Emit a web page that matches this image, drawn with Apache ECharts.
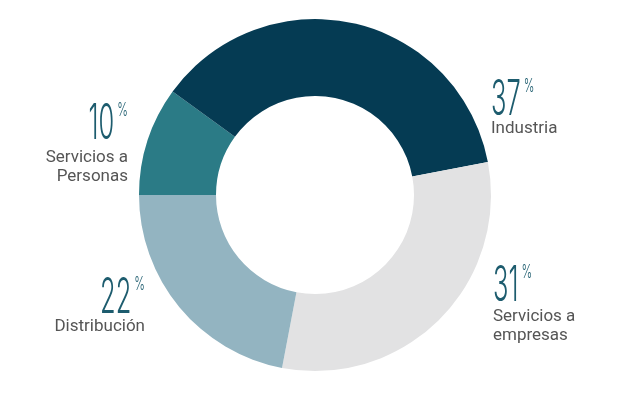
<!DOCTYPE html>
<html><head><meta charset="utf-8">
<script src="https://cdn.jsdelivr.net/npm/echarts@6/dist/echarts.min.js"></script>
<style>html,body{margin:0;padding:0;background:#fff}#c{width:620px;height:396px}</style>
</head><body><div id="c"></div>
<script>
const categories = ['Servicios a\nPersonas', 'Industria', 'Servicios a\nempresas', 'Distribución'];
const values = [10, 37, 31, 22];
const colors = ['#2b7b86', '#053b53', '#e2e2e3', '#93b4c1'];
// label anchor per slice: [x, numberCapTop, nameTop, align]
const labelPos = [[128, 104, 148, 'right'], [491, 80, 119, 'left'], [493, 266, 307, 'left'], [145, 278, 317, 'right']];

const chart = echarts.init(document.getElementById('c'), null, {renderer: 'canvas'});
const numColor = '#1d5c6e';
const numFont = '300 49px Inter', pctFont = '300 19px Inter';
const nsx = 0.52, psx = 0.6;
const ctx = document.createElement('canvas').getContext('2d');
function tw(t, f) { ctx.font = f; return ctx.measureText(t).width; }
const graphics = [];
values.forEach((v, i) => {
  const [x, capTop, nameTop, align] = labelPos[i];
  const numW = tw(String(v), numFont) * nsx;
  const pctW = tw('%', pctFont) * psx;
  const gap = 3;
  const numLeft = align === 'left' ? x : x - pctW - gap - numW;
  graphics.push({
    type: 'text', x: numLeft, y: capTop + 17 + 3, scaleX: nsx,
    style: {text: String(v), font: numFont, fill: numColor, textAlign: 'left', textVerticalAlign: 'middle'}
  });
  graphics.push({
    type: 'text', x: numLeft + numW + gap, y: capTop - 3, scaleX: psx,
    style: {text: '%', font: pctFont, fill: numColor, textAlign: 'left', textVerticalAlign: 'top'}
  });
  graphics.push({
    type: 'text', x: x, y: nameTop,
    style: {text: categories[i], font: '17px Roboto', fill: '#555555', lineHeight: 19,
      textAlign: align, textVerticalAlign: 'top'}
  });
});

chart.setOption({
  animation: false,
  series: [{
    type: 'pie',
    center: [315, 195],
    radius: [99, 176],
    startAngle: 180,
    clockwise: true,
    label: {show: false},
    labelLine: {show: false},
    emphasis: {disabled: true},
    data: values.map((v, i) => ({value: v, name: categories[i], itemStyle: {color: colors[i]}}))
  }],
  graphic: graphics
});
</script></body></html>
